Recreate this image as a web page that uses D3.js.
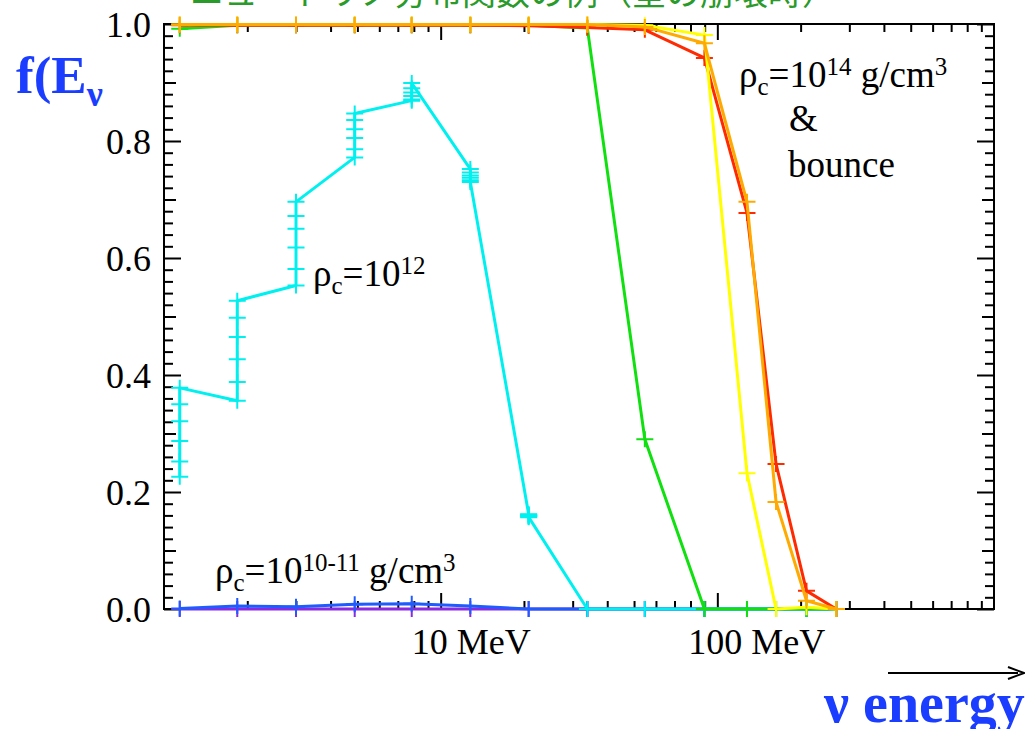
<!DOCTYPE html>
<html><head><meta charset="utf-8">
<script src="https://cdn.jsdelivr.net/npm/d3@7"></script>
<style>html,body{margin:0;padding:0;background:#fff;overflow:hidden}</style>
</head><body>
<svg id="c" width="1025" height="729"></svg>
<script>
// ---- data ----
const energies = [1.14, 1.84, 3.0, 4.89, 7.86, 12.8, 20.8, 33.9, 54.7, 89.8, 128, 163, 210, 269];
const purpleVals = [0, 0, 0, 0, 0, 0, 0, 0, 0, 0, 0, 0, 0, 0];
const blueVals   = [0.001, 0.005, 0.004, 0.008, 0.009, 0.005, 0.0, 0.0, 0, 0, 0, 0, 0, 0];
const greenVals  = [0.992, 0.998, 0.998, 0.998, 0.998, 0.998, 0.998, 0.993, 0.29, 0.0, 0.0, 0.0, 0.0, 0.0];
const redVals    = [0.998, 0.998, 0.998, 0.998, 0.998, 0.998, 0.997, 0.994, 0.990, 0.942, 0.677, 0.248, 0.031, 0.0];
const yellowVals = [0.999, 0.999, 0.999, 0.999, 0.999, 0.999, 0.999, 0.999, 0.998, 0.981, 0.232, 0.0, 0.003, 0.0];
const orangeVals = [0.999, 0.999, 0.999, 0.999, 0.999, 0.999, 0.999, 0.999, 0.995, 0.967, 0.696, 0.183, 0.014, 0.0];
// rho_c = 10^12 : several snapshots, points sorted along energy
const cyanIdx  = [0,0,0,0,0,0, 1,1,1,1,1,1, 2,2,2,2,2,2, 3,3,3,3,3,3, 4,4,4,4,4,4, 5,5,5,5,5,5, 6,6,6,6,6,6, 7,8,9,10,11,12,13];
const cyanVals = [0.226,0.252,0.287,0.321,0.350,0.378,
                  0.356,0.388,0.427,0.465,0.498,0.527,
                  0.553,0.581,0.618,0.650,0.672,0.696,
                  0.772,0.786,0.805,0.820,0.836,0.847,
                  0.869,0.871,0.877,0.883,0.890,0.899,
                  0.752,0.746,0.741,0.737,0.733,0.730,
                  0.162,0.161,0.160,0.159,0.158,0.157,
                  0.0,0.0,0.0,0.0,0.0,0.0,0.0];
const yTickVals = [0, 0.2, 0.4, 0.6, 0.8, 1.0];
const xLabelVals = [10, 100];
const xLabelText = ["10 MeV", "100 MeV"];

// ---- layout ----
const svg = d3.select("#c");
const L = 164, R = 994, T = 24, B = 609;
const x = d3.scaleLog().domain([1, 1000]).range([L, R]);
const y = d3.scaleLinear().domain([0, 1]).range([B, T]);
const serif = "'Liberation Serif','Times New Roman',serif";

// title (cropped at top)
svg.append("text").attr("x", 190).attr("y", 5)
  .attr("font-family", "'Noto Sans CJK JP'").attr("font-size", 34).attr("fill", "#2a9a2a")
  .text("ニュートリノ分布関数の例（星の崩壊時）");

// axes
const minorX = [];
[1, 10, 100].forEach(d => { for (let k = 2; k <= 9; k++) minorX.push(d * k); });
const majorX = [10, 100];
const minorY = d3.range(0, 51).map(i => i * 0.02).filter(v => Math.abs(v * 10 - Math.round(v * 10)) > 1e-6);
const medY = [0.1, 0.3, 0.5, 0.7, 0.9];

function styleAxis(g) {
  g.select(".domain").remove();
  g.selectAll(".tick line").attr("stroke", "#000").attr("stroke-width", 2);
}
const ax = svg.append("g");
ax.append("g").attr("transform", `translate(0,${B})`).call(d3.axisBottom(x).tickValues(minorX).tickSize(-8).tickFormat("")).call(styleAxis);
ax.append("g").attr("transform", `translate(0,${B})`).call(d3.axisBottom(x).tickValues(majorX).tickSize(-16).tickFormat("")).call(styleAxis);
ax.append("g").attr("transform", `translate(0,${T})`).call(d3.axisTop(x).tickValues(minorX).tickSize(-8).tickFormat("")).call(styleAxis);
ax.append("g").attr("transform", `translate(0,${T})`).call(d3.axisTop(x).tickValues(majorX).tickSize(-16).tickFormat("")).call(styleAxis);
ax.append("g").attr("transform", `translate(${L},0)`).call(d3.axisLeft(y).tickValues(minorY).tickSize(-9).tickFormat("")).call(styleAxis);
ax.append("g").attr("transform", `translate(${L},0)`).call(d3.axisLeft(y).tickValues(medY).tickSize(-12).tickFormat("")).call(styleAxis);
const yl = ax.append("g").attr("transform", `translate(${L},0)`)
  .call(d3.axisLeft(y).tickValues(yTickVals).tickSize(-17).tickPadding(13).tickFormat(d3.format(".1f"))).call(styleAxis);
yl.selectAll("text").attr("font-family", serif).attr("font-size", 36).attr("fill", "#000").attr("dy", "0.34em");
ax.append("g").attr("transform", `translate(${R},0)`).call(d3.axisRight(y).tickValues(minorY).tickSize(-9).tickFormat("")).call(styleAxis);
ax.append("g").attr("transform", `translate(${R},0)`).call(d3.axisRight(y).tickValues(medY).tickSize(-12).tickFormat("")).call(styleAxis);
ax.append("g").attr("transform", `translate(${R},0)`).call(d3.axisRight(y).tickValues(yTickVals).tickSize(-17).tickFormat("")).call(styleAxis);
svg.append("rect").attr("x", L).attr("y", T).attr("width", R - L).attr("height", B - T)
  .attr("fill", "none").attr("stroke", "#000").attr("stroke-width", 2);

// x labels, starting a little left of their tick
xLabelVals.forEach((v, i) => {
  svg.append("text").attr("font-family", serif).attr("font-size", 36).attr("y", 654).attr("fill", "#000")
    .attr("x", x(v) - 29).text(xLabelText[i]);
});

// series
const line = d3.line().x(d => x(d[0])).y(d => y(d[1]));
const plot = svg.append("g");
function series(pts, color) {
  plot.append("path").datum(pts).attr("d", line).attr("fill", "none")
    .attr("stroke", color).attr("stroke-width", 3).attr("stroke-linejoin", "round");
  plot.append("g").selectAll("path").data(pts).join("path")
    .attr("transform", d => `translate(${x(d[0])},${y(d[1])})`)
    .attr("d", "M-8.5,0H8.5M0,-8V8").attr("stroke", color).attr("stroke-width", 2).attr("fill", "none");
}
const zipE = vals => vals.map((v, i) => [energies[i], v]);
series(zipE(purpleVals), "#8a2be2");
series(zipE(blueVals), "#1e5cff");
series(cyanIdx.map((k, i) => [energies[k], cyanVals[i]]), "#00f0f0");
series(zipE(greenVals), "#10e010");
series(zipE(redVals), "#ff2a00");
series(zipE(yellowVals), "#ffff00");
series(zipE(orangeVals), "#ffaa00");

// annotations
function rho(xp, yp, sup, rest, restSup) {
  const t = svg.append("text").attr("x", xp).attr("y", yp).attr("font-family", serif).attr("font-size", 37).attr("fill", "#000");
  t.append("tspan").text("ρ");
  t.append("tspan").attr("font-size", 25).attr("dy", 8).text("c");
  t.append("tspan").attr("dy", -8).text("=10");
  t.append("tspan").attr("font-size", 25).attr("dy", -12).text(sup);
  if (rest) {
    t.append("tspan").attr("dy", 12).text(rest);
    t.append("tspan").attr("font-size", 25).attr("dy", -12).text(restSup);
  }
}
rho(313, 286, "12");
rho(215, 583, "10-11", " g/cm", "3");
rho(739, 87, "14", " g/cm", "3");
svg.append("text").attr("x", 789).attr("y", 131).attr("font-family", serif).attr("font-size", 37).text("&");
svg.append("text").attr("x", 788).attr("y", 177).attr("font-family", serif).attr("font-size", 37).text("bounce");

// axis titles
const fy = svg.append("text").attr("x", 16).attr("y", 93).attr("font-family", serif).attr("font-weight", "bold")
  .attr("font-size", 53).attr("fill", "#1a3dff");
fy.append("tspan").text("f(E");
fy.append("tspan").attr("font-size", 36).attr("dy", 13).text("ν");

svg.append("text").attr("x", 824).attr("y", 722).attr("font-family", serif).attr("font-weight", "bold")
  .attr("font-size", 56).attr("fill", "#1a3dff").text("ν energy");

// arrow
svg.append("line").attr("x1", 888).attr("x2", 1018).attr("y1", 673).attr("y2", 673).attr("stroke", "#000").attr("stroke-width", 2);
svg.append("path").attr("d", "M1008,667L1024,673L1008,679").attr("fill", "none").attr("stroke", "#000").attr("stroke-width", 2);
</script>
</body></html>
